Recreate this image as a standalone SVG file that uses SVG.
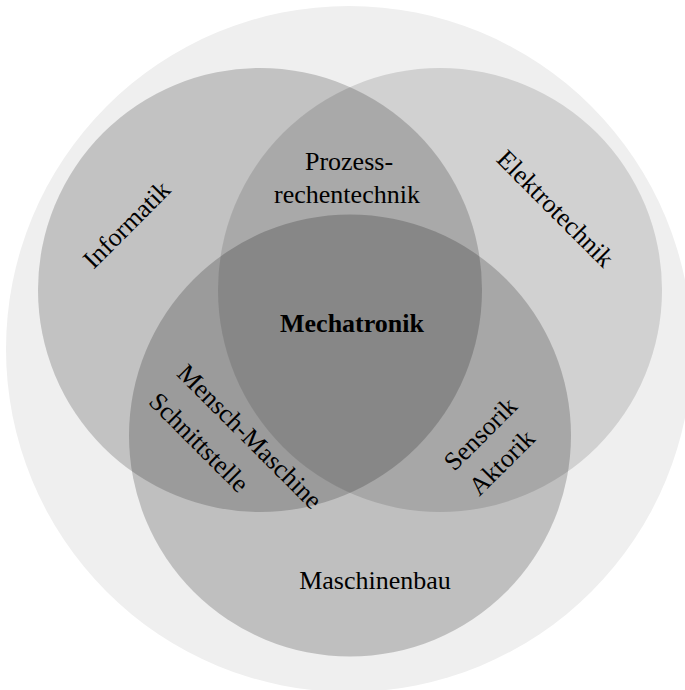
<svg xmlns="http://www.w3.org/2000/svg" width="685" height="690" viewBox="0 0 685 690">
  <style>
    .lbl { font-family: "Liberation Serif", "Times New Roman", serif; font-size: 26px; fill: #000; }
    .bold { font-weight: bold; }
    .set { fill: #000; }
  </style>
  <rect width="685" height="690" fill="#fff"/>
  <!-- surrounding field -->
  <g id="field">
    <circle cx="349" cy="349" r="343" fill="#efefef"/>
  </g>
  <!-- three overlapping disciplines -->
  <g id="informatik">
    <circle class="set" cx="260" cy="290" r="222" fill-opacity="0.19"/>
    <text class="lbl" text-anchor="middle" transform="translate(132.7,230.7) rotate(-45)">Informatik</text>
  </g>
  <g id="elektrotechnik">
    <circle class="set" cx="440" cy="290" r="222" fill-opacity="0.125"/>
    <text class="lbl" text-anchor="middle" transform="translate(549.3,214.7) rotate(45)">Elektrotechnik</text>
  </g>
  <g id="maschinenbau">
    <circle class="set" cx="350" cy="435.5" r="221" fill-opacity="0.2"/>
    <text class="lbl" x="375" y="589" text-anchor="middle">Maschinenbau</text>
  </g>
  <!-- overlap labels -->
  <g id="prozessrechentechnik">
    <text class="lbl" text-anchor="middle"><tspan x="349" y="170">Prozess-</tspan><tspan x="347" y="203">rechentechnik</tspan></text>
  </g>
  <g id="mensch-maschine">
    <text class="lbl" transform="translate(175.8,374.7) rotate(45)"><tspan x="0" y="0">Mensch-Maschine</tspan><tspan x="0" y="40">Schnittstelle</tspan></text>
  </g>
  <g id="sensorik-aktorik">
    <text class="lbl" transform="translate(454.3,472.1) rotate(-45)"><tspan x="0" y="0">Sensorik</tspan><tspan x="0" y="35.4">Aktorik</tspan></text>
  </g>
  <g id="mechatronik">
    <text class="lbl bold" x="352" y="332" text-anchor="middle">Mechatronik</text>
  </g>
  <g id="connectors"/>
</svg>
